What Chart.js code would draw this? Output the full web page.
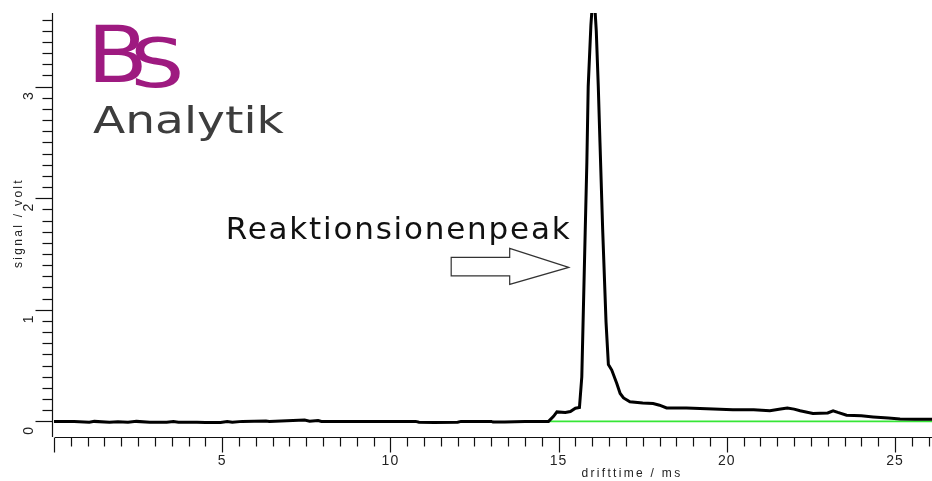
<!DOCTYPE html>
<html>
<head>
<meta charset="utf-8">
<script src="https://cdn.jsdelivr.net/npm/chart.js@4.4.1/dist/chart.umd.min.js"></script>
<style>
  html, body { margin: 0; padding: 0; background: #fff; }
  canvas { display: block; }
</style>
</head>
<body>
<canvas id="spectrum" width="932" height="481"></canvas>
<script>
// IMS spectrum: drift time in ms, detector signal in volt
const driftTime = [
  0.00, 0.60, 1.05, 1.20, 1.65, 1.90, 2.20, 2.45, 2.85, 3.35, 3.55, 3.70, 4.25, 4.50,
  4.95, 5.15, 5.30, 5.60, 6.30, 6.40, 7.45, 7.60, 7.85, 7.95, 9.00, 10.75, 10.85, 11.30,
  12.00, 12.10, 13.00, 13.05, 13.40, 14.00, 14.70, 14.85, 14.95, 15.20, 15.35, 15.50,
  15.62, 15.69, 15.79, 15.84, 15.88, 15.96, 16.04, 16.12, 16.18, 16.23, 16.31, 16.41,
  16.48, 16.58, 16.73, 16.83, 16.93, 17.12, 17.50, 17.81, 18.00, 18.21, 18.80, 19.20,
  19.60, 20.18, 20.80, 21.28, 21.60, 21.80, 22.00, 22.18, 22.56, 23.00, 23.16, 23.30,
  23.56, 24.00, 24.35, 24.80, 25.15, 25.60, 26.10
];
const signal = [
  0.000, 0.000, -0.008, 0.000, -0.008, -0.004, -0.008, 0.000, -0.008, -0.008, -0.002, -0.008, -0.008, -0.010,
  -0.010, -0.002, -0.008, 0.000, 0.004, 0.000, 0.012, 0.002, 0.008, 0.000, 0.000, 0.000, -0.008, -0.010,
  -0.008, 0.000, 0.000, -0.006, -0.006, 0.000, 0.000, 0.045, 0.085, 0.080, 0.088, 0.118,
  0.125, 0.40, 1.69, 2.32, 3.00, 3.55, 3.90, 3.50, 3.00, 2.50, 1.72, 0.89,
  0.51, 0.46, 0.34, 0.25, 0.21, 0.175, 0.165, 0.16, 0.145, 0.12, 0.12, 0.115,
  0.11, 0.105, 0.105, 0.095, 0.11, 0.12, 0.11, 0.095, 0.07, 0.075, 0.095, 0.08,
  0.055, 0.05, 0.04, 0.03, 0.022, 0.02, 0.02
];

// fitted baseline under the reactant ion peak
const baseTime = [14.72, 26.10];
const baseSignal = [0.0, 0.0];

const xLabels = [5, 10, 15, 20, 25];
const yLabels = [0, 1, 2, 3];

const X_MIN = 0, X_MAX = 26.1;
const Y_MIN = -0.14, Y_MAX = 3.66;

const toPoints = (xs, ys) => xs.map((x, i) => ({ x, y: ys[i] }));

function strokeLine(ctx, x1, y1, x2, y2) {
  ctx.beginPath();
  ctx.moveTo(x1, y1);
  ctx.lineTo(x2, y2);
  ctx.stroke();
}

// text whose ink starts at `left`, optionally stretched horizontally
function inkText(ctx, text, left, baseline, sx) {
  ctx.save();
  ctx.translate(left, baseline);
  ctx.scale(sx, 1);
  const m = ctx.measureText(text);
  ctx.fillText(text, m.actualBoundingBoxLeft, 0);
  ctx.restore();
}

// axes with minor/major ticks, drawn from the chart scales
const imsAxes = {
  id: 'imsAxes',
  afterDraw(chart) {
    const { ctx, chartArea: a, scales: { x, y } } = chart;
    ctx.save();
    ctx.strokeStyle = '#111';
    ctx.lineWidth = 1.2;

    // y axis
    const ax = a.left - 1.5;
    strokeLine(ctx, ax, a.top, ax, a.bottom);
    for (let i = 0; i / 10 <= Y_MAX; i++) {
      const py = Math.round(y.getPixelForValue(i / 10)) + 0.5;
      const len = i % 10 === 0 ? 17 : 10;
      strokeLine(ctx, ax - len, py, ax, py);
    }

    // x axis
    const ay = a.bottom + 0.5;
    strokeLine(ctx, a.left + 1, ay, a.right, ay);
    for (let i = 0; i / 2 <= X_MAX; i++) {
      const px = Math.round(x.getPixelForValue(i / 2)) + 0.5;
      const len = i % 10 === 0 ? 15 : 9;
      strokeLine(ctx, px, ay, px, ay + len);
    }

    ctx.fillStyle = '#222';
    ctx.font = '14px "Liberation Sans", Arial, sans-serif';
    ctx.letterSpacing = '1px';
    ctx.textAlign = 'center';
    ctx.textBaseline = 'middle';
    xLabels.forEach(v => ctx.fillText(String(v), x.getPixelForValue(v), 461));
    yLabels.forEach(v => {
      ctx.save();
      ctx.translate(29, y.getPixelForValue(v) + 9);
      ctx.rotate(-Math.PI / 2);
      ctx.fillText(String(v), 0, 0);
      ctx.restore();
    });

    // axis titles
    ctx.font = '12px "Liberation Sans", Arial, sans-serif';
    ctx.letterSpacing = '2.3px';
    ctx.fillText('drifttime / ms', 632, 474);
    ctx.save();
    ctx.translate(19, 223);
    ctx.rotate(-Math.PI / 2);
    ctx.fillText('signal / volt', 0, 0);
    ctx.restore();
    ctx.restore();
  }
};

// peak annotation and company logo
const imsDecor = {
  id: 'imsDecor',
  afterDraw(chart) {
    const { ctx, scales: { x, y } } = chart;
    ctx.save();

    // hollow arrow pointing at the peak flank
    const tx = x.getPixelForValue(15.3);
    const ty = y.getPixelForValue(1.38);
    ctx.strokeStyle = '#333';
    ctx.lineWidth = 1.2;
    ctx.beginPath();
    ctx.moveTo(tx, ty);
    ctx.lineTo(tx - 59, ty - 19);
    ctx.lineTo(tx - 59, ty - 10);
    ctx.lineTo(tx - 117.5, ty - 10);
    ctx.lineTo(tx - 117.5, ty + 8.5);
    ctx.lineTo(tx - 59, ty + 8.5);
    ctx.lineTo(tx - 59, ty + 17);
    ctx.closePath();
    ctx.stroke();

    ctx.fillStyle = '#111';
    ctx.font = '31px "DejaVu Sans", sans-serif';
    ctx.letterSpacing = '1.8px';
    ctx.textAlign = 'left';
    ctx.textBaseline = 'alphabetic';
    inkText(ctx, 'Reaktionsionenpeak', tx - 340, ty - 28.5, 1);

    // logo
    ctx.letterSpacing = '0px';
    ctx.fillStyle = '#9e1a80';
    ctx.font = '78px "DejaVu Sans", sans-serif';
    inkText(ctx, 'B', 95, 82, 1.14);
    ctx.font = '67px "DejaVu Sans", sans-serif';
    inkText(ctx, 'S', 135, 86.5, 1.28);

    ctx.fillStyle = '#3d3d3d';
    ctx.font = '38px "DejaVu Sans", sans-serif';
    inkText(ctx, 'Analytik', 93, 133, 1.24);
    ctx.restore();
  }
};

new Chart(document.getElementById('spectrum'), {
  type: 'line',
  data: {
    datasets: [
      {
        label: 'signal',
        data: toPoints(driftTime, signal),
        borderColor: '#000',
        borderWidth: 3,
        pointRadius: 0,
        tension: 0,
        clip: 0,
        order: 0
      },
      {
        label: 'baseline',
        data: toPoints(baseTime, baseSignal),
        borderColor: '#36e636',
        borderWidth: 1.6,
        pointRadius: 0,
        tension: 0,
        clip: 0,
        order: 1
      }
    ]
  },
  options: {
    responsive: false,
    animation: false,
    layout: { padding: { left: 54, top: 13, right: 0, bottom: 44 } },
    scales: {
      x: { type: 'linear', min: X_MIN, max: X_MAX, display: false },
      y: { type: 'linear', min: Y_MIN, max: Y_MAX, display: false }
    },
    plugins: {
      legend: { display: false },
      tooltip: { enabled: false }
    }
  },
  plugins: [imsAxes, imsDecor]
});
</script>
</body>
</html>
